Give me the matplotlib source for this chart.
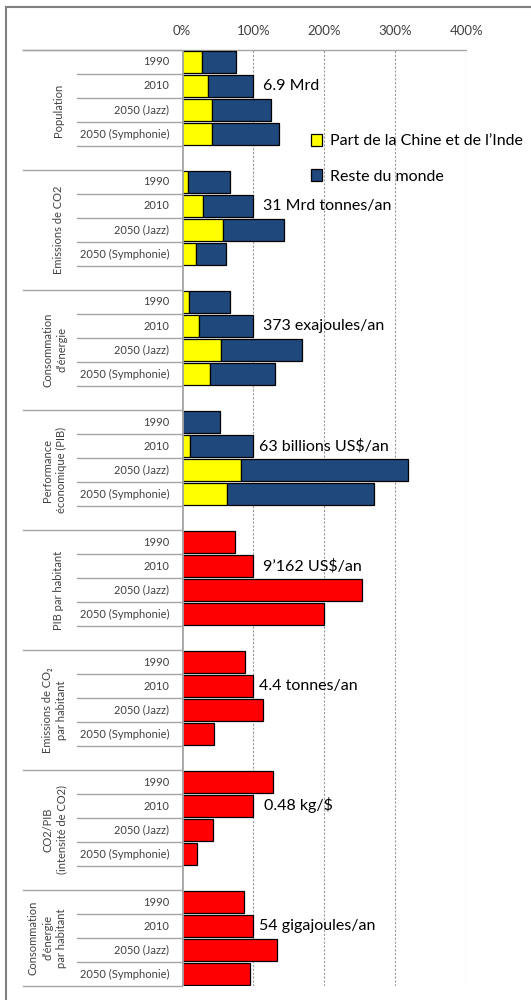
import matplotlib
matplotlib.use("Agg")
import matplotlib.pyplot as plt
import matplotlib.transforms as mtransforms
from matplotlib.lines import Line2D
from matplotlib.patches import Patch

plt.rcParams['font.family'] = ['Lato', 'DejaVu Sans']

# indices 2010 = 100%
categories = ['1990', '2010', '2050 (Jazz)', '2050 (Symphonie)']

groupes = ['Population',
           'Emissions de CO2',
           'Consommation\nd\u2019énergie',
           'Performance\néconomique (PIB)',
           'PIB par habitant',
           'Emissions de CO\u2082\npar habitant',
           'CO2/PIB\n(intensité de CO2)',
           'Consommation\nd\u2019énergie\npar habitant']

valeurs_2010 = ['6.9 Mrd', '31 Mrd tonnes/an', '373 exajoules/an',
                '63 billions US$/an', '9\u2019162 US$/an', '4.4 tonnes/an',
                '0.48 kg/$', '54 gigajoules/an']

# totaux mondiaux et part Chine + Inde (groupes 1 a 4)
population_total = [76, 100, 125, 136]
population_chine_inde = [28, 36, 41.5, 42.5]
co2_total = [68, 100, 144, 62]
co2_chine_inde = [8, 29.5, 57, 20]
energie_total = [67, 100, 168, 131]
energie_chine_inde = [9, 23, 55, 38.5]
pib_total = [53.5, 100, 318.5, 270]
pib_chine_inde = [0, 10.5, 83, 63]

# indicateurs par habitant / intensite (groupes 5 a 8)
pib_hab = [74.5, 100, 253, 199]
co2_hab = [88, 100, 114, 45]
co2_pib = [128, 100, 44, 21.5]
energie_hab = [87, 100, 133.5, 96]

empiles = [(population_chine_inde, population_total),
           (co2_chine_inde, co2_total),
           (energie_chine_inde, energie_total),
           (pib_chine_inde, pib_total)]
simples = [pib_hab, co2_hab, co2_pib, energie_hab]

JAUNE = '#ffff00'
BLEU = '#1f497d'
ROUGE = '#ff0000'
GRIS = '#a6a6a6'
TEXTE = '#404040'

W, H = 531, 1000
fig = plt.figure(figsize=(W / 100, H / 100), dpi=100)

x0, x1 = 182.2, 466.3
y0, y1 = 50, 986
ax = fig.add_axes([x0 / W, 1 - y1 / H, (x1 - x0) / W, (y1 - y0) / H])
n_rows = len(groupes) * 5 - 1
ax.set_xlim(0, 400)
ax.set_ylim(n_rows, 0)

h = 0.9
for g, (part, total) in enumerate(empiles):
    ys = [g * 5 + c + 0.5 for c in range(len(categories))]
    reste = [t - p for t, p in zip(total, part)]
    ax.barh(ys, part, height=h, color=JAUNE, edgecolor='black', lw=0.9, zorder=3)
    ax.barh(ys, reste, left=part, height=h, color=BLEU, edgecolor='black', lw=0.9, zorder=3)

for k, serie in enumerate(simples):
    g = k + len(empiles)
    ys = [g * 5 + c + 0.5 for c in range(len(categories))]
    ax.barh(ys, serie, height=h, color=ROUGE, edgecolor='black', lw=0.9, zorder=3)

# grille et axe
ax.set_xticks([0, 100, 200, 300, 400])
ax.set_xticklabels(['0%', '100%', '200%', '300%', '400%'])
ax.xaxis.tick_top()
ax.tick_params(axis='x', length=0, pad=9, labelsize=9.5, labelcolor=TEXTE)
ax.set_yticks([])
for s in ax.spines.values():
    s.set_visible(False)
for v in [100, 200, 300, 400]:
    ax.axvline(v, color='#9a9a9a', lw=0.8, ls=(0, (2, 1.5)), zorder=1)
ax.axvline(0, color=GRIS, lw=2, zorder=4)

# axe des categories a gauche
trans = mtransforms.blended_transform_factory(fig.transFigure, ax.transData)
xg, xc, xa = 23 / W, 77.2 / W, x0 / W
for g in range(len(groupes)):
    top = g * 5
    ax.add_line(Line2D([xg, xa], [top, top], transform=trans, color=GRIS, lw=1, clip_on=False))
    for c in range(len(categories)):
        yl = top + c + 1
        xs = xg if yl == n_rows else xc
        ax.add_line(Line2D([xs, xa], [yl, yl], transform=trans, color=GRIS, lw=1, clip_on=False))
        ax.text(169.3 / W, top + c + 0.5, categories[c], transform=trans, ha='right', va='center',
                fontsize=8, color=TEXTE)
    span = min(5, n_rows - top)
    ax.text(62 / W, top + span / 2, groupes[g], transform=trans, rotation=90, rotation_mode='anchor',
            ha='center', va='baseline', fontsize=8, color=TEXTE, linespacing=1.35)

# ligne superieure de l'axe
ax.add_line(Line2D([xg, x1 / W], [0, 0], transform=trans, color=GRIS, lw=1, clip_on=False))

# valeurs absolues de 2010
annot_x = [114, 114, 114, 108, 114, 108, 115, 108]
for g, txt in enumerate(valeurs_2010):
    ax.text(annot_x[g], g * 5 + 1.5 + 0.17, txt, ha='left', va='baseline', fontsize=11.5,
            color='black', zorder=5)

handles = [Patch(facecolor=JAUNE, edgecolor='black', lw=0.9),
           Patch(facecolor=BLEU, edgecolor='black', lw=0.9)]
fig.legend(handles, ['Part de la Chine et de l\u2019Inde', 'Reste du monde'],
           loc='upper left', bbox_to_anchor=(310.5 / W, 1 - 134 / H), frameon=False,
           fontsize=11.5, handlelength=0.75, handleheight=0.75, handletextpad=0.45,
           labelspacing=1.3, borderpad=0, borderaxespad=0)

# cadre
fig.add_artist(Line2D([6 / W, 1], [1 - 7 / H, 1 - 7 / H], color='#808080', lw=1.5))
fig.add_artist(Line2D([6 / W, 6 / W], [0, 1 - 7 / H], color='#808080', lw=1.5))

fig.savefig('out.png', dpi=100)
